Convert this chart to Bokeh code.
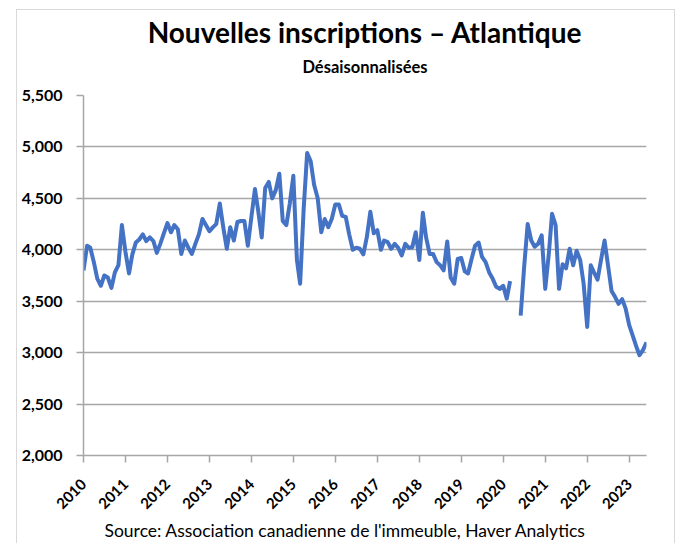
import math
import pandas as pd
from bokeh.plotting import figure
from bokeh.layouts import row, column
from bokeh.models import (Title, FixedTicker, NumeralTickFormatter, DatetimeTickFormatter,
                          Range1d, ColumnDataSource, Spacer)
from bokeh.embed import file_html
from bokeh.resources import INLINE

nan = float("nan")

# Monthly new listings, Atlantic region (seasonally adjusted), Jan 2010 - Jun 2023
v2010 = [3800, 4040, 4020, 3880, 3720, 3650, 3750, 3730, 3630, 3780, 3850, 4240]
v2011 = [3980, 3770, 3950, 4070, 4100, 4150, 4085, 4120, 4085, 3970, 4060, 4160]
v2012 = [4260, 4170, 4240, 4200, 3960, 4090, 4020, 3960, 4060, 4150, 4300, 4240]
v2013 = [4180, 4220, 4250, 4450, 4220, 4010, 4220, 4090, 4270, 4280, 4280, 4040]
v2014 = [4320, 4590, 4380, 4120, 4600, 4660, 4500, 4580, 4740, 4280, 4240, 4450]
v2015 = [4720, 3900, 3670, 4400, 4940, 4860, 4630, 4500, 4170, 4300, 4220, 4300]
v2016 = [4440, 4440, 4330, 4320, 4150, 4000, 4020, 4010, 3955, 4120, 4370, 4160]
v2017 = [4190, 4000, 4090, 4075, 4010, 4058, 4020, 3945, 4058, 4020, 4025, 4170]
v2018 = [3900, 4360, 4120, 3960, 3960, 3880, 3850, 3800, 4080, 3730, 3670, 3910]
v2019 = [3920, 3790, 3770, 3910, 4040, 4070, 3930, 3880, 3780, 3720, 3640, 3620]
v2020 = [3650, 3525, 3695, nan, nan, 3360, 3830, 4250, 4090, 4030, 4060, 4140]
v2021 = [3620, 3960, 4350, 4240, 3620, 3860, 3820, 4010, 3850, 3990, 3900, 3670]
v2022 = [3250, 3850, 3780, 3710, 3900, 4090, 3850, 3600, 3540, 3475, 3520, 3430]
v2023 = [3270, 3165, 3070, 2975, 3025, 3100]

values = (v2010 + v2011 + v2012 + v2013 + v2014 + v2015 + v2016 + v2017 +
          v2018 + v2019 + v2020 + v2021 + v2022 + v2023)
start_month = "2010-01-01"
year_ticks = list(range(2010, 2024))
y_ticks = [2000, 2500, 3000, 3500, 4000, 4500, 5000, 5500]

title_text = "Nouvelles inscriptions – Atlantique"
subtitle_text = "Désaisonnalisées"
source_text = "Source: Association canadienne de l'immeuble, Haver Analytics"

dates = pd.date_range(start_month, periods=len(values), freq="MS")
src = ColumnDataSource(dict(date=dates, value=values))

FONT = "Lato"
GRID = "#A6A6A6"

p = figure(width=659, height=534, x_axis_type="datetime", output_backend="svg",
           toolbar_location=None, title=None,
           x_range=Range1d(dates[0], dates[-1]), y_range=Range1d(min(y_ticks), max(y_ticks)),
           min_border_left=66, min_border_right=30, min_border_top=85, min_border_bottom=89)
p.styles = {"border-top": "1px solid #D9D9D9", "border-left": "1px solid #D9D9D9",
            "border-right": "1px solid #D9D9D9"}

p.line("date", "value", source=src, line_color="#4472C4", line_width=4, line_join="round")

tick_ms = [pd.Timestamp(f"{y}-01-01").value / 1e6 for y in year_ticks]
p.xaxis.ticker = FixedTicker(ticks=tick_ms)
p.xaxis.formatter = DatetimeTickFormatter(years="%Y", months="%Y", days="%Y", hours="%Y",
                                          minutes="%Y", seconds="%Y", milliseconds="%Y",
                                          minsec="%Y", hourmin="%Y")
p.xaxis.major_label_orientation = math.pi / 4
p.xaxis.major_label_text_font = FONT
p.xaxis.major_label_text_font_style = "bold"
p.xaxis.major_label_text_font_size = "15px"
p.xaxis.major_label_text_color = "black"
p.xaxis.major_label_standoff = 19

p.yaxis.ticker = FixedTicker(ticks=y_ticks)
p.yaxis.formatter = NumeralTickFormatter(format="0,0")
p.yaxis.major_label_text_font = FONT
p.yaxis.major_label_text_font_style = "bold"
p.yaxis.major_label_text_font_size = "16px"
p.yaxis.major_label_text_color = "black"
p.yaxis.major_label_standoff = 14

for ax in (p.xaxis, p.yaxis):
    ax.axis_line_color = GRID
    ax.axis_line_width = 1.5
    ax.major_tick_line_color = GRID
    ax.major_tick_line_width = 1.5
    ax.major_tick_out = 7
    ax.major_tick_in = 0
    ax.minor_tick_line_color = None

p.xgrid.visible = False
p.ygrid.grid_line_color = GRID
p.ygrid.grid_line_width = 1.5
p.outline_line_color = None

sub = Title(text=subtitle_text, align="center", text_font=FONT, text_font_size="16.5px",
            text_font_style="bold", text_color="black", standoff=37)
p.add_layout(sub, "above")
main = Title(text=title_text, align="center", text_font=FONT, text_font_size="28px",
             text_font_style="bold", text_color="black", standoff=-25)
p.add_layout(main, "above")
srct = Title(text=source_text, align="left", text_font=FONT, text_font_size="17.5px",
             text_font_style="normal", text_color="black", offset=21, standoff=2)
p.add_layout(srct, "below")

layout = column(Spacer(height=9), row(Spacer(width=16), p))
open("out.html", "w").write(file_html(layout, INLINE))
